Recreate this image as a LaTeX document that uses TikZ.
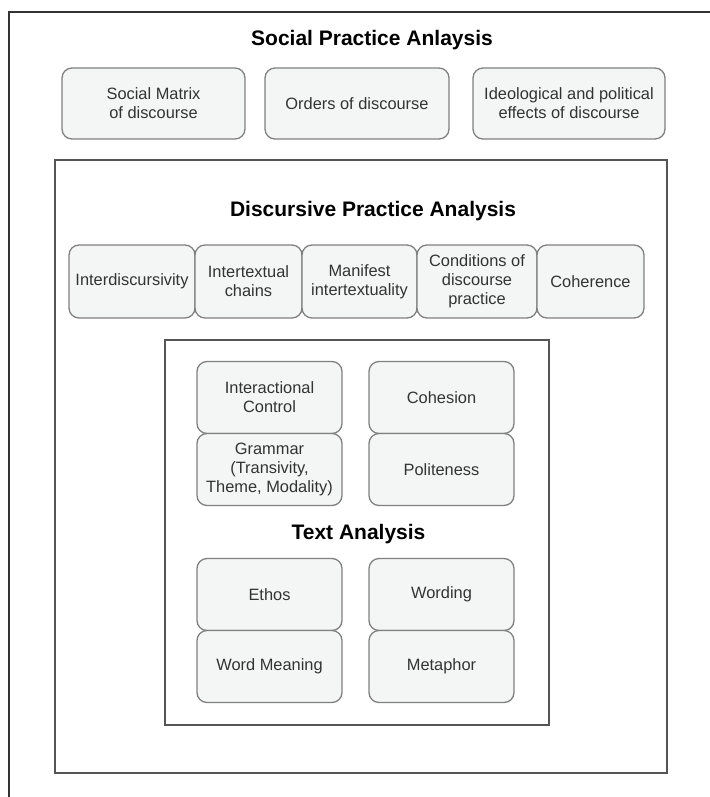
\documentclass[tikz,border=0pt]{standalone}
\usepackage{fontspec}
\setmainfont{Liberation Sans}
\usepackage{tikz}
\usetikzlibrary{positioning}

\definecolor{cardfill}{HTML}{F4F5F5}
\definecolor{carddraw}{HTML}{808080}
\definecolor{cardtext}{HTML}{333333}
\definecolor{framedraw}{HTML}{555555}

\tikzset{
  card/.style={draw=carddraw, fill=cardfill, line width=1.3pt, rounded corners=10pt,
    minimum height=72pt, inner sep=0pt, outer sep=0pt, align=center, text=cardtext,
    font=\fontsize{16.4}{19}\selectfont},
  heading/.style={font=\fontsize{21}{24}\selectfont\bfseries, text=black},
  frame/.style={draw=framedraw, line width=1.5pt},
}

\begin{document}
\begin{tikzpicture}[x=1pt, y=-1pt]
    \useasboundingbox (0,0) rectangle (709,797);

        % Frames
        \draw[draw=black!80, line width=1.3pt] (9,800) -- (9,12) -- (712,12);
        \draw[frame] (55,160) rectangle (667,773);
        \draw[frame] (165,340) rectangle (549,725);

        % Social practice
        \node[heading] (spa) at (372,40) {Social Practice Anlaysis};
        \node[card, minimum width=183pt, minimum height=71pt] (matrix) at (153.5,103.5) {Social Matrix\\of discourse};
        \node[card, minimum width=184pt, minimum height=71pt, right=20pt of matrix] (orders) {Orders of discourse};
        \node[card, minimum width=192pt, minimum height=71pt, right=24pt of orders] (ideo) {Ideological and political\\effects of discourse};

        % Discursive practice
        \node[heading] (dpa) at (373,211) {Discursive Practice Analysis};
        \node[card, minimum width=126pt, minimum height=73pt] (interdisc) at (132,281.5) {Interdiscursivity};
        \node[card, minimum width=107pt, minimum height=73pt, right=0pt of interdisc] (intertext) {Intertextual\\chains};
        \node[card, minimum width=115pt, minimum height=73pt, right=0pt of intertext] (manifest) {Manifest\\intertextuality};
        \node[card, minimum width=120pt, minimum height=73pt, right=0pt of manifest] (conditions) {Conditions of\\discourse\\practice};
        \node[card, minimum width=107pt, minimum height=73pt, right=0pt of conditions] (coherence) {Coherence};

        % Text
        \node[card, minimum width=145pt] (interact) at (269.5,397.5) {Interactional\\Control};
        \node[card, minimum width=145pt, below=0pt of interact] (grammar) {Grammar\\(Transivity,\\Theme, Modality)};
        \node[card, minimum width=145pt, right=27pt of interact] (cohesion) {Cohesion};
        \node[card, minimum width=145pt, below=0pt of cohesion] (politeness) {Politeness};
        \node[heading] (ta) at (358.5,534.5) {Text Analysis};
        \node[card, minimum width=145pt] (ethos) at (269.5,594.5) {Ethos};
        \node[card, minimum width=145pt, below=0pt of ethos] (meaning) {Word Meaning};
        \node[card, minimum width=145pt, right=27pt of ethos] (wording) {Wording};
        \node[card, minimum width=145pt, below=0pt of wording] (metaphor) {Metaphor};
      \end{tikzpicture}
\end{document}
